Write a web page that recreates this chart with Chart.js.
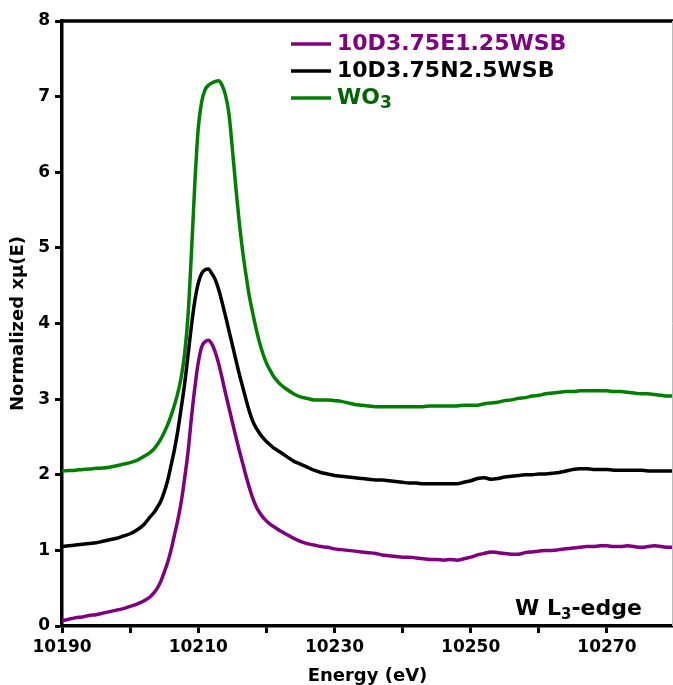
<!DOCTYPE html>
<html>
<head>
<meta charset="utf-8">
<script src="https://cdn.jsdelivr.net/npm/chart.js@4.4.1/dist/chart.umd.min.js"></script>
<style>
html, body { margin: 0; padding: 0; background: #fff; }
#wrap { width: 673px; height: 685px; }
</style>
</head>
<body>
<div id="wrap"><canvas id="c"></canvas></div>
<script>
// energies (eV): 1 eV apart, 0.5 eV across the white line
const energy = [
    10190, 10191, 10192, 10193, 10194, 10195, 10196, 10197, 10198, 10199,
    10200, 10201, 10202,
    10203, 10203.5, 10204, 10204.5, 10205, 10205.5, 10206, 10206.5, 10207, 10207.5,
    10208, 10208.5, 10209, 10209.5, 10210, 10210.5, 10211, 10211.5, 10212, 10212.5,
    10213, 10213.5, 10214, 10214.5, 10215, 10215.5, 10216, 10216.5, 10217, 10217.5,
    10218, 10218.5, 10219, 10219.5, 10220, 10220.5, 10221, 10221.5, 10222,
    10223, 10224, 10225, 10226, 10227, 10228, 10229,
    10230, 10231, 10232, 10233, 10234, 10235, 10236, 10237, 10238, 10239,
    10240, 10241, 10242, 10243, 10244, 10245, 10246, 10247, 10248, 10249,
    10250, 10251, 10252, 10253, 10254, 10255, 10256, 10257, 10258, 10259,
    10260, 10261, 10262, 10263, 10264, 10265, 10266, 10267, 10268, 10269,
    10270, 10271, 10272, 10273, 10274, 10275, 10276, 10277, 10278, 10279,
    10280
]

const seriesNames = ['10D3.75E1.25WSB', '10D3.75N2.5WSB', 'WO3']

// 10D3.75E1.25WSB
const purple = [
    0.07, 0.09, 0.11, 0.12, 0.14, 0.15, 0.17, 0.19, 0.21, 0.23,
    0.26, 0.29, 0.33,
    0.39, 0.44, 0.50, 0.59, 0.71, 0.84, 1.00, 1.20, 1.40, 1.64,
    1.95, 2.30, 2.75, 3.15, 3.48, 3.69, 3.76, 3.78, 3.73, 3.62,
    3.47, 3.28, 3.08, 2.89, 2.70, 2.51, 2.33, 2.16, 1.99, 1.83,
    1.69, 1.58, 1.50, 1.44, 1.39, 1.35, 1.32, 1.29, 1.26,
    1.21, 1.16, 1.12, 1.09, 1.07, 1.05, 1.04,
    1.02, 1.01, 1.00, 0.99, 0.98, 0.97, 0.96, 0.94, 0.93, 0.92,
    0.91, 0.91, 0.90, 0.89, 0.88, 0.88, 0.87, 0.88, 0.87, 0.89,
    0.91, 0.94, 0.96, 0.98, 0.97, 0.96, 0.95, 0.95, 0.97, 0.98,
    0.99, 1.00, 1.00, 1.01, 1.02, 1.03, 1.04, 1.05, 1.05, 1.06,
    1.06, 1.05, 1.05, 1.06, 1.05, 1.04, 1.05, 1.06, 1.05, 1.04,
    1.04
]

// 10D3.75N2.5WSB
const black = [
    1.05, 1.06, 1.07, 1.08, 1.09, 1.10, 1.12, 1.14, 1.16, 1.19,
    1.22, 1.27, 1.34,
    1.45, 1.50, 1.57, 1.65, 1.77, 1.92, 2.12, 2.33, 2.58, 2.88,
    3.20, 3.58, 3.97, 4.30, 4.53, 4.66, 4.71, 4.72, 4.66, 4.58,
    4.45, 4.28, 4.10, 3.91, 3.72, 3.53, 3.34, 3.17, 3.00, 2.84,
    2.71, 2.62, 2.55, 2.49, 2.44, 2.40, 2.36, 2.33, 2.30,
    2.24, 2.18, 2.14, 2.10, 2.06, 2.03, 2.01,
    1.99, 1.98, 1.97, 1.96, 1.95, 1.94, 1.93, 1.93, 1.92, 1.91,
    1.90, 1.89, 1.89, 1.88, 1.88, 1.88, 1.88, 1.88, 1.88, 1.90,
    1.92, 1.95, 1.96, 1.94, 1.95, 1.97, 1.98, 1.99, 2.00, 2.00,
    2.01, 2.01, 2.02, 2.03, 2.05, 2.07, 2.08, 2.08, 2.07, 2.07,
    2.07, 2.06, 2.06, 2.06, 2.06, 2.06, 2.05, 2.05, 2.05, 2.05,
    2.05
]

// WO3
const green = [
    2.05, 2.055, 2.06, 2.07, 2.075, 2.085, 2.09, 2.10, 2.12, 2.14,
    2.16, 2.19, 2.24,
    2.30, 2.34, 2.40, 2.47, 2.56, 2.66, 2.78, 2.92, 3.08, 3.29,
    3.60, 4.10, 4.93, 5.85, 6.58, 6.93, 7.09, 7.15, 7.18, 7.20,
    7.21, 7.15, 7.02, 6.78, 6.32, 5.82, 5.36, 4.97, 4.65, 4.36,
    4.14, 3.93, 3.75, 3.60, 3.48, 3.39, 3.31, 3.25, 3.20,
    3.13, 3.07, 3.03, 3.01, 2.99, 2.99, 2.99,
    2.98, 2.97, 2.95, 2.93, 2.92, 2.91, 2.90, 2.90, 2.90, 2.90,
    2.90, 2.90, 2.90, 2.90, 2.91, 2.91, 2.91, 2.91, 2.91, 2.92,
    2.92, 2.92, 2.94, 2.95, 2.96, 2.98, 2.99, 3.01, 3.02, 3.04,
    3.05, 3.07, 3.08, 3.09, 3.10, 3.10, 3.11, 3.11, 3.11, 3.11,
    3.11, 3.10, 3.10, 3.09, 3.08, 3.07, 3.07, 3.06, 3.05, 3.04,
    3.04
]

const xTickLabels = [10190, 10210, 10230, 10250, 10270]
const yTickLabels = [0, 1, 2, 3, 4, 5, 6, 7, 8]

const colors = ['#800080', '#000000', '#008000']
const textColors = ['#800080', '#000000', '#006400']

function points(values) {
    return values.map((v, i) => ({ x: energy[i], y: v }))
}

const FONT = "'DejaVu Sans', Verdana, sans-serif"

const frame = {
    id: 'frame',
    afterDraw(chart) {
        const ctx = chart.ctx
        const a = chart.chartArea
        ctx.save()
        // top border
        ctx.strokeStyle = '#000'
        ctx.lineWidth = 3.5
        ctx.beginPath()
        ctx.moveTo(a.left - 1.5, a.top)
        ctx.lineTo(a.right, a.top)
        ctx.stroke()
        ctx.strokeStyle = '#bbb'
        ctx.lineWidth = 1
        ctx.beginPath()
        ctx.moveTo(a.right - 0.5, a.top)
        ctx.lineTo(a.right - 0.5, a.bottom)
        ctx.stroke()

        // legend
        const rows = [44, 71, 98]
        seriesNames.forEach((name, i) => {
            const y = rows[i]
            ctx.strokeStyle = colors[i]
            ctx.lineWidth = 3.5
            ctx.beginPath()
            ctx.moveTo(291, y)
            ctx.lineTo(331, y)
            ctx.stroke()
            ctx.fillStyle = textColors[i]
            ctx.textBaseline = 'middle'
            ctx.textAlign = 'left'
            ctx.font = 'bold 22px ' + FONT
            if (name === 'WO3') {
                ctx.fillText('WO', 337, y)
                const w = ctx.measureText('WO').width
                ctx.font = 'bold 17px ' + FONT
                ctx.fillText('3', 337 + w, y + 6)
            } else {
                ctx.fillText(name, 337, y)
            }
        })

        // edge annotation
        ctx.fillStyle = '#000'
        ctx.textBaseline = 'alphabetic'
        ctx.font = 'bold 22px ' + FONT
        let x = 515
        ctx.fillText('W L', x, 615)
        x += ctx.measureText('W L').width
        ctx.font = 'bold 15px ' + FONT
        ctx.fillText('3', x, 619)
        x += ctx.measureText('3').width
        ctx.font = 'bold 22px ' + FONT
        ctx.fillText('-edge', x, 615)
        ctx.restore()
    }
}

new Chart(document.getElementById('c'), {
    type: 'line',
    data: {
        datasets: seriesNames.map((name, i) => ({
            label: name,
            data: points([purple, black, green][i]),
            borderColor: colors[i],
            borderWidth: 3.5,
            pointRadius: 0,
            cubicInterpolationMode: 'monotone',
            fill: false
        }))
    },
    options: {
        responsive: true,
        maintainAspectRatio: false,
        animation: false,
        layout: { padding: { top: 21, right: 0, left: 0, bottom: 0 } },
        plugins: { legend: { display: false }, tooltip: { enabled: false } },
        scales: {
            x: {
                type: 'linear',
                min: 10190,
                max: 10279.7,
                afterFit(scale) { scale.height = 59 },
                grid: { drawOnChartArea: false, drawTicks: true, tickLength: 7, tickWidth: 3, tickColor: '#000' },
                border: { display: true, color: '#000', width: 3.5 },
                ticks: {
                    stepSize: 10,
                    includeBounds: false,
                    autoSkip: false,
                    maxRotation: 0,
                    padding: 4,
                    color: '#000',
                    font: { family: FONT, size: 17, weight: 'bold' },
                    callback(v) { return xTickLabels.includes(v) ? String(v) : '' }
                },
                title: {
                    display: true,
                    text: 'Energy (eV)',
                    color: '#000',
                    padding: 0,
                    font: { family: FONT, size: 18, weight: 'bold', lineHeight: 1 }
                }
            },
            y: {
                min: 0,
                max: 8,
                afterFit(scale) { scale.width = 62 },
                grid: { drawOnChartArea: false, drawTicks: true, tickLength: 7, tickWidth: 3, tickColor: '#000' },
                border: { display: true, color: '#000', width: 3.5 },
                ticks: {
                    stepSize: 1,
                    padding: 5,
                    color: '#000',
                    font: { family: FONT, size: 17, weight: 'bold' },
                    callback(v) { return yTickLabels.includes(v) ? String(v) : '' }
                },
                title: {
                    display: true,
                    text: 'Normalized xμ(E)',
                    color: '#000',
                    padding: { top: 9, bottom: 0 },
                    font: { family: FONT, size: 18, weight: 'bold', lineHeight: 1 }
                }
            }
        }
    },
    plugins: [frame]
})
</script>
</body>
</html>
